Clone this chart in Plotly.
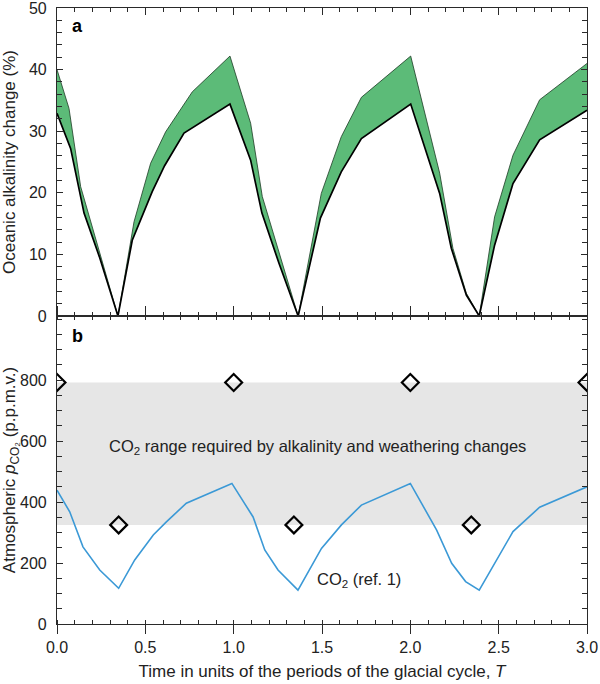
import plotly.graph_objects as go

# ---- Panel a: oceanic alkalinity change (%) ----
lower_t = [0.0, 0.077, 0.153, 0.24, 0.345, 0.426, 0.539, 0.609, 0.719, 0.879, 0.979,
           1.096, 1.16, 1.256, 1.365, 1.491, 1.609, 1.723, 2.002, 2.166, 2.232, 2.317,
           2.39, 2.477, 2.581, 2.732, 3.0]
lower_v = [32.9, 27.2, 16.7, 9.6, 0.0, 12.3, 20.2, 24.4, 29.7, 32.6, 34.4,
           25.3, 16.7, 8.6, 0.0, 15.9, 23.4, 28.8, 34.4, 19.9, 11.0, 3.4,
           0.0, 11.5, 21.5, 28.6, 33.4]
upper_t = [0.0, 0.068, 0.134, 0.345, 0.436, 0.53, 0.615, 0.766, 0.979,
           1.096, 1.162, 1.365, 1.496, 1.609, 1.723, 2.002, 2.166, 2.241, 2.317,
           2.39, 2.477, 2.581, 2.732, 3.0]
upper_v = [40.0, 33.7, 21.0, 0.0, 15.3, 24.8, 29.9, 36.4, 42.2,
           31.3, 19.4, 0.0, 19.9, 29.1, 35.5, 42.2, 23.2, 11.0, 3.7,
           0.0, 16.1, 26.1, 35.1, 41.0]

# ---- Panel b: atmospheric pCO2 (p.p.m.v.) ----
co2_t = [0.0, 0.072, 0.147, 0.242, 0.349, 0.44, 0.545, 0.619, 0.732, 0.99,
         1.11, 1.176, 1.251, 1.364, 1.497, 1.61, 1.723, 2.0, 2.149, 2.234, 2.313,
         2.39, 2.581, 2.732, 3.0]
co2_v = [439, 368, 253, 177, 117, 210, 292, 335, 396, 461,
         351, 243, 177, 111, 248, 325, 390, 461, 308, 199, 139,
         111, 303, 383, 450]
band_low, band_high = 325, 792
diam_high_t = [0.0, 1.0, 2.0, 3.0]
diam_high_v = [792, 792, 792, 792]
diam_low_t = [0.349, 1.341, 2.345]
diam_low_v = [325, 325, 325]

x_ticks = [0.0, 0.5, 1.0, 1.5, 2.0, 2.5, 3.0]
ya_ticks = [0, 10, 20, 30, 40, 50]
yb_ticks = [0, 200, 400, 600, 800]

FONT = "Liberation Sans, Arial, sans-serif"
GREEN = "#5cbb78"
BLUE = "#3b99d6"
AX = "#2a2a2a"
TXT = "#222"

fig = go.Figure()

# green band polygon
fig.add_trace(go.Scatter(
    x=upper_t + lower_t[::-1], y=upper_v + lower_v[::-1],
    fill="toself", fillcolor=GREEN, mode="lines", line=dict(width=0),
    xaxis="x", yaxis="y", showlegend=False, hoverinfo="skip"))
fig.add_trace(go.Scatter(x=upper_t, y=upper_v, mode="lines",
                         line=dict(color="#1d3b24", width=0.8),
                         xaxis="x", yaxis="y", showlegend=False))
fig.add_trace(go.Scatter(x=lower_t, y=lower_v, mode="lines",
                         line=dict(color="black", width=1.7),
                         xaxis="x", yaxis="y", showlegend=False))

# panel b
fig.add_shape(type="rect", xref="x2", yref="y2", x0=0, x1=3,
              y0=band_low, y1=band_high, fillcolor="#e6e6e6",
              line=dict(width=0), layer="below")
fig.add_trace(go.Scatter(x=co2_t, y=co2_v, mode="lines",
                         line=dict(color=BLUE, width=1.6),
                         xaxis="x2", yaxis="y2", showlegend=False))
fig.add_trace(go.Scatter(x=diam_high_t + diam_low_t, y=diam_high_v + diam_low_v,
                         mode="markers",
                         marker=dict(symbol="diamond-open", size=13, color="black",
                                     line=dict(width=2.2, color="black")),
                         xaxis="x2", yaxis="y2", showlegend=False, cliponaxis=True))

xcommon = dict(range=[0, 3], showline=True, linecolor=AX, linewidth=1.2,
               mirror="ticks", showgrid=False, zeroline=False, automargin=False,
               tickvals=x_ticks, tickcolor=AX, tickwidth=1.2,
               ticklabeloverflow="allow",
               tickfont=dict(family=FONT, size=16, color=TXT))
ycommon = dict(showline=True, linecolor=AX, linewidth=1.2, mirror="ticks",
               showgrid=False, zeroline=False, ticks="inside", ticklen=6,
               automargin=False, ticklabelstandoff=6, ticklabeloverflow="allow",
               tickcolor=AX, tickwidth=1.2,
               tickfont=dict(family=FONT, size=16, color=TXT))

fig.update_layout(
    width=600, height=684,
    margin=dict(l=57, r=13, t=8, b=60),
    paper_bgcolor="white", plot_bgcolor="white",
    font=dict(family=FONT, size=16, color=TXT),
    xaxis=dict(**xcommon, domain=[0, 1], anchor="y", ticks="inside", ticklen=7,
               showticklabels=False,
               minor=dict(dtick=0.1, ticks="inside", ticklen=4, tickcolor=AX,
                          tickwidth=1.1, showgrid=False)),
    yaxis=dict(**ycommon, domain=[0.5, 1], anchor="x", range=[0, 50],
               tickvals=ya_ticks,
               minor=dict(dtick=2, ticks="inside", ticklen=5, tickcolor=AX,
                          tickwidth=1.1, showgrid=False),
               title=dict(text="Oceanic alkalinity change (%)",
                          font=dict(family=FONT, size=17, color=TXT), standoff=8)),
    xaxis2=dict(**xcommon, domain=[0, 1], anchor="y2", ticks="outside", ticklen=9,
                tickformat=".1f",
                minor=dict(dtick=0.1, ticks="inside", ticklen=4, tickcolor=AX,
                           tickwidth=1.1, showgrid=False),
                title=dict(text="Time in units of the periods of the glacial cycle, <i>T</i>",
                           font=dict(family=FONT, size=17, color=TXT), standoff=9)),
    yaxis2=dict(**ycommon, domain=[0, 0.5], anchor="x2", range=[0, 1010],
                tickvals=yb_ticks,
                minor=dict(dtick=50, ticks="inside", ticklen=5, tickcolor=AX,
                           tickwidth=1.1, showgrid=False),
                title=dict(text="Atmospheric <i>p</i><sub>CO₂</sub> (p.p.m.v.)",
                           font=dict(family=FONT, size=17, color=TXT), standoff=8)),
    annotations=[
        dict(text="<b>a</b>", xref="x domain", yref="y domain", x=0.025, y=0.98,
             showarrow=False, font=dict(family=FONT, size=18, color="black")),
        dict(text="<b>b</b>", xref="x2 domain", yref="y2 domain", x=0.025, y=0.973,
             showarrow=False, font=dict(family=FONT, size=18, color="black")),
        dict(text="CO<sub>2</sub> range required by alkalinity and weathering changes",
             xref="x2", yref="y2", x=1.475, y=581, showarrow=False,
             font=dict(family=FONT, size=16.5, color=TXT)),
        dict(text="CO<sub>2</sub> (ref. 1)", xref="x2", yref="y2", x=1.458, y=144,
             xanchor="left", showarrow=False,
             font=dict(family=FONT, size=16.5, color=TXT)),
    ],
)

fig.write_html("out.html", config={"displayModeBar": False},
               post_script="document.body.style.margin='0';document.body.style.padding='0';")
